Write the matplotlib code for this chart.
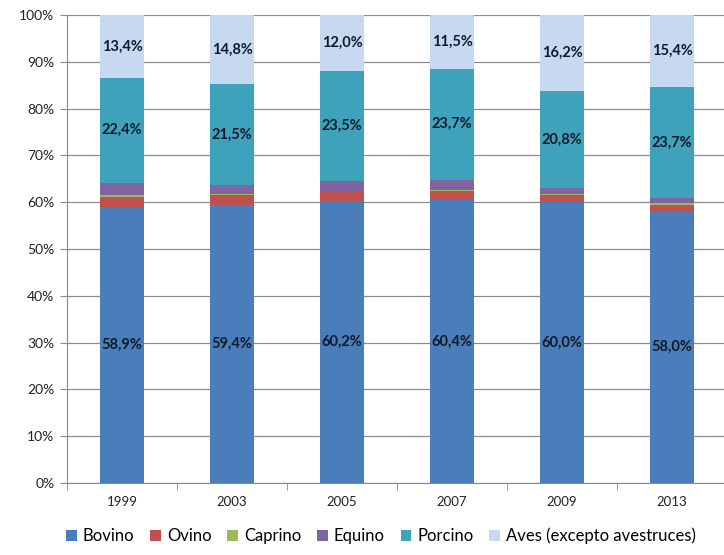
import matplotlib
matplotlib.use("Agg")
import matplotlib.pyplot as plt
import numpy as np

years = ["1999", "2003", "2005", "2007", "2009", "2013"]
species = ["Bovino", "Ovino", "Caprino", "Equino", "Porcino", "Aves (excepto avestruces)"]

bovino = [58.9, 59.4, 60.2, 60.4, 60.0, 58.0]
ovino = [2.3, 2.1, 2.1, 1.9, 1.5, 1.5]
caprino = [0.3, 0.3, 0.2, 0.3, 0.3, 0.3]
equino = [2.7, 1.9, 2.0, 2.2, 1.2, 1.1]
porcino = [22.4, 21.5, 23.5, 23.7, 20.8, 23.7]
aves = [13.4, 14.8, 12.0, 11.5, 16.2, 15.4]

colors = ["#4A7EBB", "#C0504D", "#9BBB59", "#8064A2", "#3FA2BB", "#C6D9F1"]
labelled = [True, False, False, False, True, True]

plt.rcParams['font.family'] = ['Lato', 'DejaVu Sans']

fig = plt.figure(figsize=(7.24, 5.55), dpi=100, facecolor='white')
ax = fig.add_axes([67/724, 72/555, 660/724, 468/555])

x = np.arange(len(years))
series = [bovino, ovino, caprino, equino, porcino, aves]
bottom = np.zeros(len(years))
for vals, name, col, lab in zip(series, species, colors, labelled):
    vals = np.array(vals)
    ax.bar(x, vals, 0.4, bottom=bottom, color=col, label=name, zorder=2)
    if lab:
        for xi, v, b in zip(x, vals, bottom):
            ax.text(xi, b + v / 2, ("%.1f%%" % v).replace(".", ","),
                    ha='center', va='center', fontsize=10.5,
                    fontweight='bold', color='#111a2a', zorder=3)
    bottom += vals

ax.set_xlim(-0.5, len(years) - 0.5)
ax.set_ylim(0, 100)
ax.set_yticks(np.arange(0, 101, 10))
ax.set_yticklabels(["%d%%" % v for v in range(0, 101, 10)], fontsize=10, color='#222222')
ax.set_xticks(x)
ax.set_xticklabels(years, fontsize=9.5, color='#222222')
ax.set_xticks(np.arange(-0.5, len(years), 1), minor=True)
ax.tick_params(axis='x', which='major', length=0, pad=9)
ax.tick_params(axis='x', which='minor', length=5, color='#888888')
ax.tick_params(axis='y', length=5, color='#888888', pad=4)
ax.yaxis.grid(True, color='#8c8c8c', linewidth=0.9, zorder=0)
for s in ['top', 'right']:
    ax.spines[s].set_visible(False)
for s in ['left', 'bottom']:
    ax.spines[s].set_color('#888888')

fig.legend(loc='center', bbox_to_anchor=(381/724, 1 - 536/555), ncol=6,
           frameon=False, fontsize=12, handlelength=0.65, handleheight=0.65,
           handletextpad=0.35, columnspacing=0.95)

fig.savefig("out.png", dpi=100, facecolor='white')
